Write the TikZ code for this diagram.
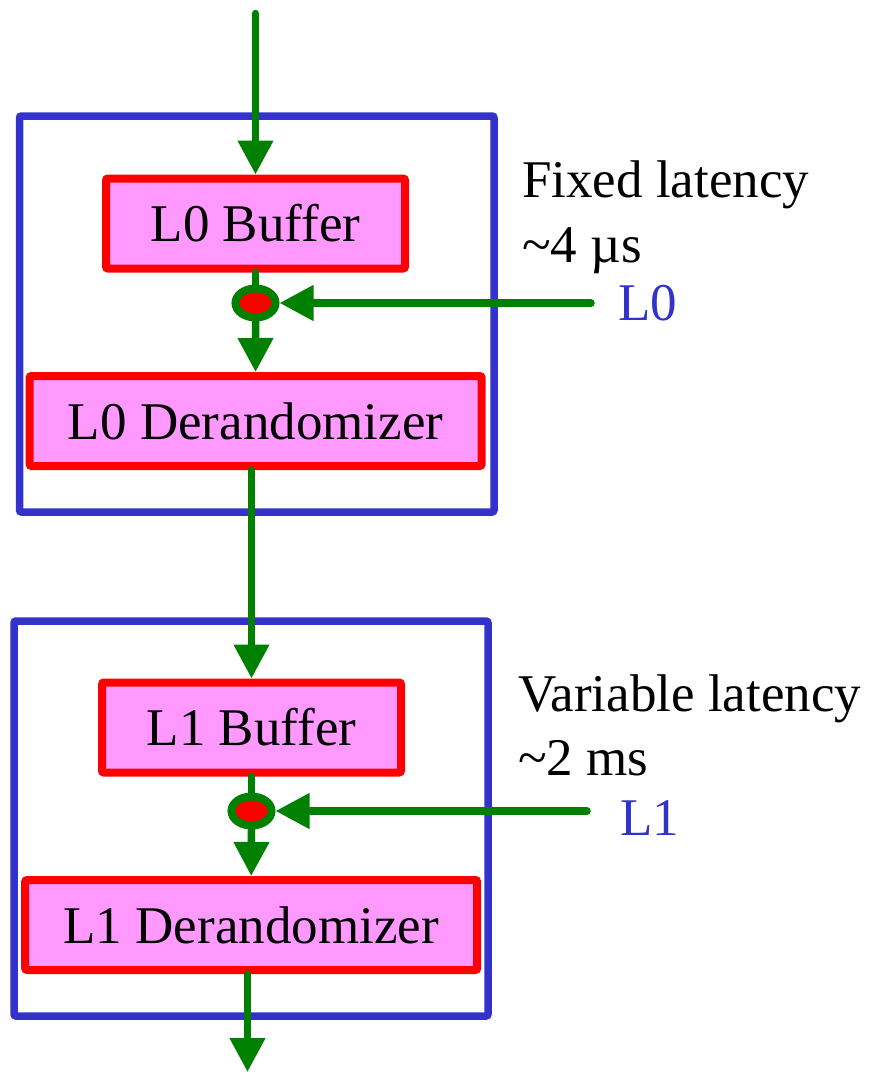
\documentclass[tikz,border=0pt]{standalone}
\usepackage{fontspec}
\setmainfont{Liberation Serif}
\usetikzlibrary{arrows.meta,shapes.geometric}
\definecolor{trigblue}{RGB}{51,51,204}
\definecolor{trigred}{RGB}{255,0,0}
\definecolor{trigpink}{RGB}{255,153,255}
\definecolor{triggreen}{RGB}{0,128,0}

\begin{document}
\begin{tikzpicture}[x=1pt,y=-1pt,
  stage/.style={draw=trigblue,line width=7.5pt,rounded corners=2pt},
  buf/.style={draw=trigred,fill=trigpink,line width=8pt,rounded corners=2pt,inner sep=0pt,minimum height=90pt,font=\fontsize{53}{64}\selectfont},
  dot/.style={ellipse,draw=triggreen,fill=trigred,line width=8pt,inner sep=0pt,minimum width=40pt,minimum height=29pt},
  link/.style={draw=triggreen,line width=7.5pt,line cap=round},
  flow/.style={link,-{Triangle[length=34pt,width=34pt]}},
  note/.style={anchor=base west,inner sep=0pt,font=\fontsize{53}{64}\selectfont},
  trig/.style={note,text=trigblue}]
\useasboundingbox (0,0) rectangle (872,1072);
% L0 stage: fixed latency
\draw[stage] (19.5,116) rectangle (494,512);
\node[buf,minimum width=299pt] (l0buf) at (255.5,223.5) {L0 Buffer};
\node[dot] (dot0) at (255.5,303) {};
\node[buf,minimum width=452pt] (l0der) at (255.6,421) {L0 Derandomizer};
\coordinate (in0) at (255.5,13.5);
\coordinate (l0in) at (591,303);
\node[note] (fixlat) at (522,197) {Fixed latency};
\node[note] (fixval) at (522,262) {\textasciitilde4 µs};
\node[trig] (l0lab) at (618,320) {L0};

% L1 stage: variable latency
\draw[stage] (14,621) rectangle (488,1016);
\node[buf,minimum width=299pt] (l1buf) at (251.5,727.5) {L1 Buffer};
\node[dot] (dot1) at (251.5,811) {};
\node[buf,minimum width=452pt] (l1der) at (251.2,925) {L1 Derandomizer};
\coordinate (l1in) at (587,811);
\coordinate (out) at (247.5,1072);
\node[note] (varlat) at (518,711.7) {Variable latency};
\node[note] (varval) at (518,775) {\textasciitilde2 ms};
\node[trig] (l1lab) at (620,835) {L1};

% data path
\draw[flow] (in0) -- (l0buf.north);
\draw[link] (l0buf.south) -- (dot0.north);
\draw[flow] (dot0.south) -- (l0der.north);
\draw[flow] (l0in) -- (dot0.east);
\draw[flow] (l0der.south -| l1buf.north) -- (l1buf.north);
\draw[link] (l1buf.south) -- (dot1.north);
\draw[flow] (dot1.south) -- (l1der.north);
\draw[flow] (l1in) -- (dot1.east);
\draw[flow] (l1der.south -| out) -- (out);
\end{tikzpicture}
\end{document}
